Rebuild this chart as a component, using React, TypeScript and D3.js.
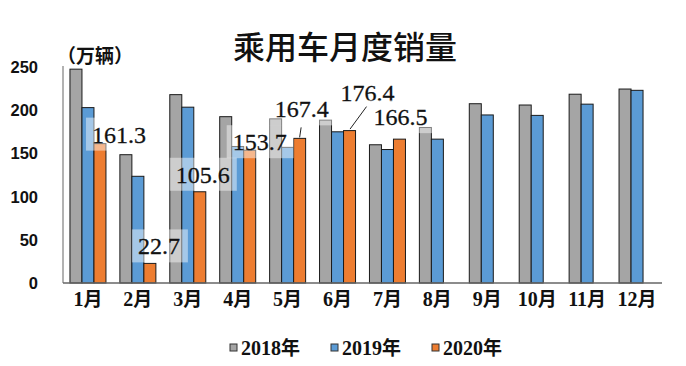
import React from "react";
import * as d3 from "d3";

const months = ["1月","2月","3月","4月","5月","6月","7月","8月","9月","10月","11月","12月"];
const seriesNames = ["2018年","2019年","2020年"];
const sales2018 = [247.5,148.5,218,192.5,190,188.5,160,180,207.5,206,218.5,224.5];
const sales2019 = [203,123.5,203.5,158,157,175,154.5,166.5,194.5,194,207,223];
const sales2020: (number|null)[] = [161.3,22.7,105.6,153.7,167.4,176.4,166.5,null,null,null,null,null];
const yTicks = [0,50,100,150,200,250];
const colors = ["#A5A5A5","#5B9BD5","#ED7D31"];

// label layout offsets (relative to top-centre of the 2020 bar)
const labelLayout = [
  { dx: -8, dy: -1, leader: null },
  { dx: -12, dy: -9, leader: null },
  { dx: -24, dy: -9, leader: null },
  { dx: -17, dy: 0, leader: null },
  { dx: -25, dy: -21, leader: [1.5, -11, 0, -1] },
  { dx: -9, dy: -30, leader: [17, -24, 0.5, -1.5] },
  { dx: -26, dy: -14, leader: null },
];

export default function App() {
  const W = 686, H = 366;
  const left = 63, right = 662, top = 67, bottom = 283;
  const x = d3.scaleBand<string>().domain(months).range([left, right]).padding(0);
  const y = d3.scaleLinear().domain([0, 250]).range([bottom, top]);
  const barW = 12;
  const series = [sales2018, sales2019, sales2020];
  const xs = (i: number, s: number) => (x(months[i]) as number) + x.bandwidth() / 2 - 1.5 * barW + s * barW;
  const labelFont = 24;
  return (
    <svg width={W} height={H} style={{ position: "absolute", left: 0, top: 0, background: "#fff" }}>
      <text x={345} y={59} textAnchor="middle" fontFamily="'Noto Sans CJK SC'" fontWeight={500} fontSize={32} fill="#111">乘用车月度销量</text>
      <text x={57} y={63} fontFamily="'Noto Sans CJK SC'" fontWeight={700} fontSize={19} fill="#111">（万辆）</text>
      {yTicks.map(t => (
        <text key={t} x={38} y={y(t) + 6} textAnchor="end" fontFamily="'Liberation Sans'" fontWeight={700} fontSize={16.5} fill="#111">{t}</text>
      ))}
      {series.map((vals, s) => vals.map((v, i) => v == null ? null : (
        <rect key={`${s}-${i}`} x={xs(i, s)} y={y(v)} width={barW} height={bottom - y(v)} fill={colors[s]} stroke="#1a1a1a" strokeWidth={1} />
      )))}
      <line x1={left} x2={left} y1={top - 1} y2={bottom} stroke="#999" strokeWidth={1.5} />
      <line x1={left} x2={right} y1={bottom} y2={bottom} stroke="#666" strokeWidth={1.5} />
      {months.map(m => (
        <text key={m} x={(x(m) as number) + x.bandwidth() / 2} y={306} textAnchor="middle" fontFamily="'Liberation Serif'" fontWeight={700} fontSize={20} fill="#111">
          {m.replace("月", "")}<tspan fontFamily="'Noto Sans CJK SC'" fontWeight={700} fontSize={19}>月</tspan>
        </text>
      ))}
      {labelLayout.map((L, i) => {
        const v = sales2020[i] as number;
        const cx = xs(i, 2) + barW / 2;
        const ty = y(v);
        const tx = cx + L.dx;
        const by = ty + L.dy;
        const txt = v.toFixed(1);
        const tw = txt.length * 11;
        return (
          <g key={i}>
            <rect x={tx - 6} y={by - 25} width={tw + 12} height={33} fill="#fff" opacity={0.45} />
            {L.leader && <line x1={cx + L.leader[0]} y1={ty + L.leader[1]} x2={cx + L.leader[2]} y2={ty + L.leader[3]} stroke="#222" strokeWidth={1} />}
            <text x={tx} y={by} fontFamily="'Liberation Serif'" fontSize={labelFont} fill="#111" stroke="#111" strokeWidth={0.3}>{txt}</text>
          </g>
        );
      })}
      {seriesNames.map((n, s) => {
        const lx = 230 + s * 101;
        return (
          <g key={n}>
            <rect x={lx} y={344} width={7} height={7} fill={colors[s]} stroke="#333" strokeWidth={1} />
            <text x={lx + 11} y={355} fontFamily="'Liberation Serif'" fontWeight={700} fontSize={20} fill="#111">
              {n.replace("年", "")}<tspan fontFamily="'Noto Sans CJK SC'" fontWeight={700} fontSize={19}>年</tspan>
            </text>
          </g>
        );
      })}
    </svg>
  );
}
